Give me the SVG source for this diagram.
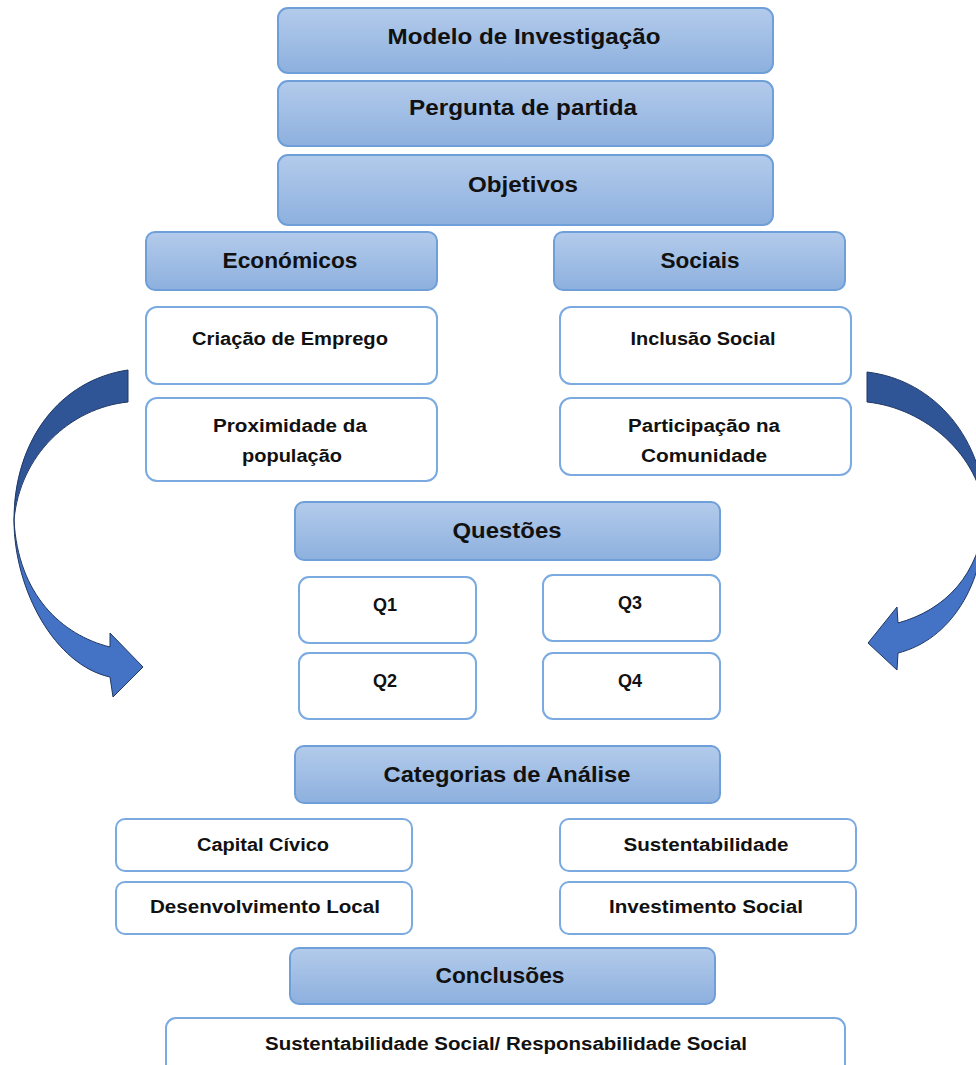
<svg xmlns="http://www.w3.org/2000/svg" width="976" height="1065" viewBox="0 0 976 1065">
<defs>
<linearGradient id="g" x1="0" y1="0" x2="0" y2="1">
<stop offset="0" stop-color="#b3cbeb"/>
<stop offset="1" stop-color="#8db0de"/>
</linearGradient>
</defs>
<style>
.h{fill:url(#g);stroke:#6f9fd9;stroke-width:2}
.w{fill:#fff;stroke:#7aaae0;stroke-width:2}
text{font-family:"Liberation Sans",Arial,sans-serif;font-weight:bold;fill:#111;text-anchor:middle}
.t1{font-size:22px}
.t2{font-size:18px}
.dk{fill:#2f5597;stroke:#1f3864;stroke-width:1}
.lt{fill:#4472c4;stroke:#1f3864;stroke-width:1}
</style>
<rect width="976" height="1065" fill="#fff"/>
<g id="connectors">
<g id="arrow-left">
<path class="lt" d="M14,520 C14,590 55,665 110,677 L113,697 L143,667 L110,633 L110,647 C62,635 18,595 14,520 Z"/>
<path class="dk" d="M128,370 C60,380 14,440 14,520 C20,455 70,408 128,402 Z"/>
</g>
<g id="arrow-right">
<path class="lt" d="M985,515 C985,585 950,640 898,653 L897,670 L868,643 L897,607 L898,623 C945,610 980,575 985,515 Z"/>
<path class="dk" d="M867,372 C935,380 985,440 985,515 C980,455 925,408 867,402 Z"/>
</g>
</g>
<g id="n-modelo"><rect class="h" x="278" y="8" width="495" height="65" rx="10"/><text class="t1" x="524" y="44" textLength="273" lengthAdjust="spacingAndGlyphs">Modelo de Investigação</text></g>
<g id="n-pergunta"><rect class="h" x="278" y="81" width="495" height="65" rx="10"/><text class="t1" x="523" y="115" textLength="228" lengthAdjust="spacingAndGlyphs">Pergunta de partida</text></g>
<g id="n-objetivos"><rect class="h" x="278" y="155" width="495" height="70" rx="10"/><text class="t1" x="523" y="192" textLength="110" lengthAdjust="spacingAndGlyphs">Objetivos</text></g>
<g id="n-economicos"><rect class="h" x="146" y="232" width="291" height="58" rx="9"/><text class="t1" x="290" y="268" textLength="135" lengthAdjust="spacingAndGlyphs">Económicos</text></g>
<g id="n-sociais"><rect class="h" x="554" y="232" width="291" height="58" rx="9"/><text class="t1" x="700" y="268" textLength="79" lengthAdjust="spacingAndGlyphs">Sociais</text></g>
<g id="n-criacao"><rect class="w" x="146" y="307" width="291" height="77" rx="11"/><text class="t2" x="290" y="345" textLength="196" lengthAdjust="spacingAndGlyphs">Criação de Emprego</text></g>
<g id="n-proximidade"><rect class="w" x="146" y="398" width="291" height="83" rx="11"/><text class="t2" x="290" y="432" textLength="154" lengthAdjust="spacingAndGlyphs">Proximidade da</text><text class="t2" x="292" y="462" textLength="100" lengthAdjust="spacingAndGlyphs">população</text></g>
<g id="n-inclusao"><rect class="w" x="560" y="307" width="291" height="77" rx="11"/><text class="t2" x="703" y="345" textLength="145" lengthAdjust="spacingAndGlyphs">Inclusão Social</text></g>
<g id="n-participacao"><rect class="w" x="560" y="398" width="291" height="77" rx="11"/><text class="t2" x="704" y="432" textLength="152" lengthAdjust="spacingAndGlyphs">Participação na</text><text class="t2" x="704" y="462" textLength="126" lengthAdjust="spacingAndGlyphs">Comunidade</text></g>
<g id="n-questoes"><rect class="h" x="295" y="502" width="425" height="58" rx="9"/><text class="t1" x="507" y="538" textLength="109" lengthAdjust="spacingAndGlyphs">Questões</text></g>
<g id="n-q1"><rect class="w" x="299" y="577" width="177" height="66" rx="10"/><text class="t2" x="385" y="611">Q1</text></g>
<g id="n-q3"><rect class="w" x="543" y="575" width="177" height="66" rx="10"/><text class="t2" x="630" y="609">Q3</text></g>
<g id="n-q2"><rect class="w" x="299" y="653" width="177" height="66" rx="10"/><text class="t2" x="385" y="687">Q2</text></g>
<g id="n-q4"><rect class="w" x="543" y="653" width="177" height="66" rx="10"/><text class="t2" x="630" y="687">Q4</text></g>
<g id="n-categorias"><rect class="h" x="295" y="746" width="425" height="57" rx="9"/><text class="t1" x="507" y="782" textLength="247" lengthAdjust="spacingAndGlyphs">Categorias de Análise</text></g>
<g id="n-capital"><rect class="w" x="116" y="819" width="296" height="52" rx="9"/><text class="t2" x="263" y="851" textLength="132" lengthAdjust="spacingAndGlyphs">Capital Cívico</text></g>
<g id="n-sustentabilidade"><rect class="w" x="560" y="819" width="296" height="52" rx="9"/><text class="t2" x="706" y="851" textLength="165" lengthAdjust="spacingAndGlyphs">Sustentabilidade</text></g>
<g id="n-desenvolvimento"><rect class="w" x="116" y="882" width="296" height="52" rx="9"/><text class="t2" x="265" y="913" textLength="230" lengthAdjust="spacingAndGlyphs">Desenvolvimento Local</text></g>
<g id="n-investimento"><rect class="w" x="560" y="882" width="296" height="52" rx="9"/><text class="t2" x="706" y="913" textLength="194" lengthAdjust="spacingAndGlyphs">Investimento Social</text></g>
<g id="n-conclusoes"><rect class="h" x="290" y="948" width="425" height="56" rx="9"/><text class="t1" x="500" y="983" textLength="129" lengthAdjust="spacingAndGlyphs">Conclusões</text></g>
<g id="n-sustsocial"><rect class="w" x="166" y="1018" width="679" height="60" rx="10"/><text class="t2" x="506" y="1050" textLength="482" lengthAdjust="spacingAndGlyphs">Sustentabilidade Social/ Responsabilidade Social</text></g>
</svg>
